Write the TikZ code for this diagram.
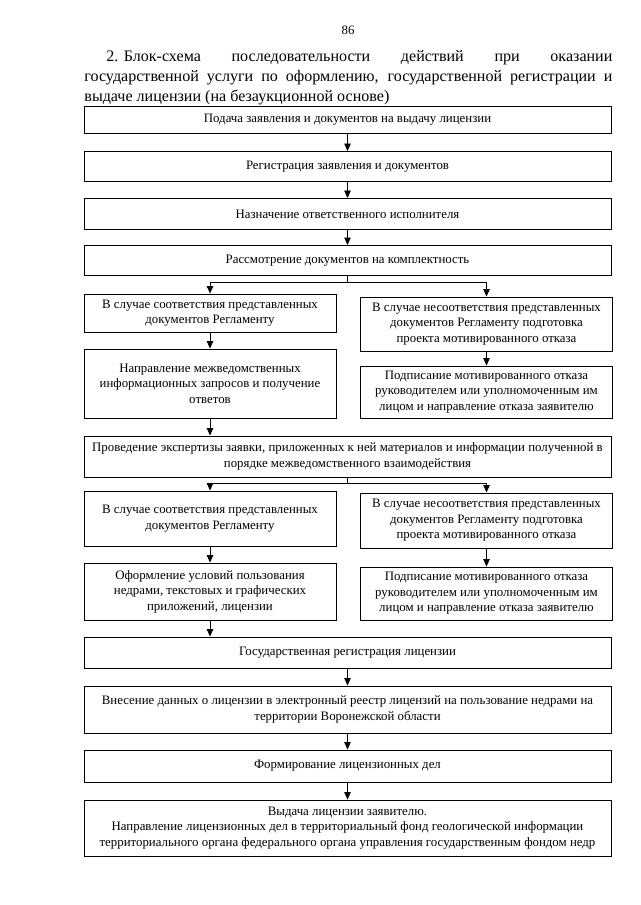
\documentclass[tikz,border=0pt]{standalone}
\usepackage{fontspec}
\setmainfont{Liberation Serif}
\usetikzlibrary{arrows.meta}
\newlength\pxl
\setlength\pxl{0.0328125cm}

\begin{document}
\begin{tikzpicture}[x=0.0328125cm,y=-0.0328125cm,line width=0.8pt,
  box/.style={draw,align=center,inner sep=1pt,font=\fontsize{12}{14.5}\selectfont},
  wide/.style={box,minimum width=527\pxl},
  half/.style={box,minimum width=252\pxl},
  arr/.style={-{Triangle[width=6pt,length=7pt]}}]
\useasboundingbox (0,0) rectangle (640,905);
\node[font=\fontsize{12}{14}\selectfont] (pagenum) at (348,30) {86};
\node[anchor=north west,inner sep=0pt,text width=528\pxl,align=justify,font=\fontsize{15}{18.8}\selectfont] (title) at (84,50) {\noindent\hspace*{22\pxl}\mbox{2. Блок-схема} последовательности действий при оказании\linebreak государственной услуги по оформлению, государственной регистрации и\linebreak выдаче лицензии (на безаукционной основе)};
\node[wide,minimum height=27\pxl] (podacha) at (347.5,120) {Подача заявления и документов на выдачу лицензии};
\node[wide,minimum height=30\pxl] (registr) at (347.5,166.5) {Регистрация заявления и документов};
\node[wide,minimum height=31\pxl] (naznach) at (347.5,214) {Назначение ответственного исполнителя};
\node[wide,minimum height=30\pxl] (rassm) at (347.5,260.5) {Рассмотрение документов на комплектность};
\node[half,minimum height=38\pxl] (sootv1) at (210,313) {В случае соответствия представленных\\документов Регламенту};
\node[half,minimum height=54\pxl] (nesoot1) at (486.5,324) {В случае несоответствия представленных\\документов Регламенту подготовка\\проекта мотивированного отказа};
\node[half,minimum height=69\pxl] (zapros) at (210,383.5) {Направление межведомственных\\информационных запросов и получение\\ответов};
\node[half,minimum height=52\pxl] (otkaz1) at (486.5,392) {Подписание мотивированного отказа\\руководителем или уполномоченным им\\лицом и направление отказа заявителю};
\node[wide,minimum height=41\pxl] (ekspert) at (347.5,456.5) {Проведение экспертизы заявки, приложенных к ней материалов и информации полученной в\\порядке межведомственного взаимодействия};
\node[half,minimum height=55\pxl] (sootv2) at (210,518.5) {В случае соответствия представленных\\документов Регламенту};
\node[half,minimum height=55\pxl] (nesoot2) at (486.5,520.5) {В случае несоответствия представленных\\документов Регламенту подготовка\\проекта мотивированного отказа};
\node[half,minimum height=57\pxl] (oform) at (210,591.5) {Оформление условий пользования\\недрами, текстовых и графических\\приложений, лицензии};
\node[half,minimum height=53\pxl] (otkaz2) at (486.5,593.5) {Подписание мотивированного отказа\\руководителем или уполномоченным им\\лицом и направление отказа заявителю};
\node[wide,minimum height=31\pxl] (gosreg) at (347.5,652.5) {Государственная регистрация лицензии};
\node[wide,minimum height=47\pxl] (reestr) at (347.5,709.5) {Внесение данных о лицензии в электронный реестр лицензий на пользование недрами на\\территории Воронежской области};
\node[wide,minimum height=32\pxl] (delo) at (347.5,766) {Формирование лицензионных дел};
\node[wide,minimum height=56\pxl] (vydacha) at (347.5,828) {Выдача лицензии заявителю.\\Направление лицензионных дел в территориальный фонд геологической информации\\территориального органа федерального органа управления государственным фондом недр};
\coordinate (split1) at (347.5,282);
\coordinate (split2) at (347.5,483);
\draw[arr] (podacha) -- (registr);
\draw[arr] (registr) -- (naznach);
\draw[arr] (naznach) -- (rassm);
\draw (rassm.south) -- (split1);
\draw[arr] (split1) -| (sootv1.north);
\draw[arr] (split1) -| (nesoot1.north);
\draw[arr] (sootv1) -- (zapros);
\draw[arr] (nesoot1) -- (otkaz1);
\draw[arr] (zapros.south) -- (zapros.south |- ekspert.north);
\draw (ekspert.south) -- (split2);
\draw[arr] (split2) -| (sootv2.north);
\draw[arr] (split2) -| (nesoot2.north);
\draw[arr] (sootv2) -- (oform);
\draw[arr] (nesoot2) -- (otkaz2);
\draw[arr] (oform.south) -- (oform.south |- gosreg.north);
\draw[arr] (gosreg) -- (reestr);
\draw[arr] (reestr) -- (delo);
\draw[arr] (delo) -- (vydacha);
\end{tikzpicture}
\end{document}
